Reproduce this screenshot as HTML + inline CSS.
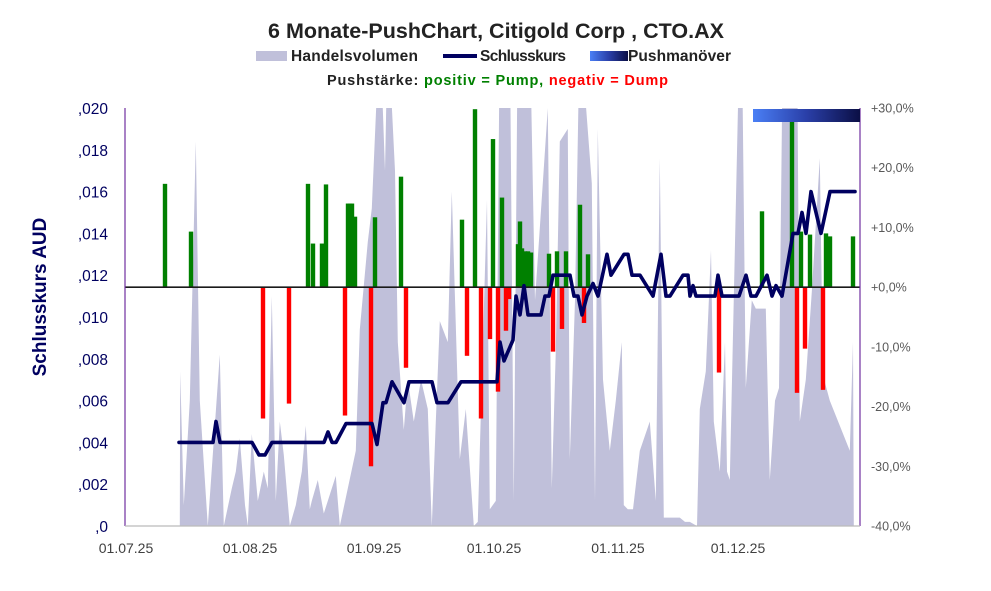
<!DOCTYPE html>
<html><head><meta charset="utf-8"><style>
body{margin:0;background:#fff;}
svg{display:block;font-family:"Liberation Sans",sans-serif;}
</style></head><body>
<svg id="chart" width="991" height="591" viewBox="0 0 991 591" xmlns="http://www.w3.org/2000/svg">
<defs>
<linearGradient id="pg" x1="0" x2="1" y1="0" y2="0"><stop offset="0" stop-color="#4a7ff5"/><stop offset="0.5" stop-color="#2a3fa8"/><stop offset="1" stop-color="#0b0f45"/></linearGradient>
<clipPath id="plotclip"><rect x="125" y="108" width="735" height="418"/></clipPath>
</defs>
<text x="496" y="38" text-anchor="middle" font-size="21.5" font-weight="bold" fill="#222">6 Monate-PushChart, Citigold Corp , CTO.AX</text>
<g>
<rect x="256" y="51" width="31" height="10" fill="#c0c0da"/>
<text x="291" y="61" font-size="15.5" font-weight="bold" fill="#222" textLength="127">Handelsvolumen</text>
<rect x="443" y="54" width="34" height="4" fill="#000060"/>
<text x="480" y="61" font-size="15.5" font-weight="bold" fill="#222" textLength="86">Schlusskurs</text>
<rect x="590" y="51" width="38" height="10" fill="url(#pg)"/>
<text x="628" y="61" font-size="15.5" font-weight="bold" fill="#222" textLength="103">Pushmanöver</text>
<text x="327" y="85" font-size="14.5" font-weight="bold" fill="#222" textLength="341">Pushstärke:  <tspan fill="#008000">positiv = Pump,</tspan>  <tspan fill="#ff0000">negativ = Dump</tspan></text>
</g>
<g id="vol" clip-path="url(#plotclip)"></g>
<g id="bars"></g>
<g id="axes"></g>
<g id="line"></g>
<rect x="753" y="109" width="107" height="13" fill="url(#pg)"/>
<text transform="translate(46,297) rotate(-90)" text-anchor="middle" font-size="19" font-weight="bold" fill="#000060">Schlusskurs AUD</text>
</svg>
<script>
const priceTicks=[",0",",002",",004",",006",",008",",010",",012",",014",",016",",018",",020"];
const pctTicks=["-40,0%","-30,0%","-20,0%","-10,0%","+0,0%","+10,0%","+20,0%","+30,0%"];
const dateLabels=["01.07.25","01.08.25","01.09.25","01.10.25","01.11.25","01.12.25"];
const dateDays=[0,31,62,92,123,153];
const priceDays=[13.5,22,22.75,23.75,31.75,33.5,35,36.75,49.75,50.75,51.75,52.75,55.25,60.75,61.75,63,64.5,65.25,66.75,69.75,71,76.75,78,80.75,84,93,93.75,94.75,97,97.75,98.75,99.75,100.75,104,105,106,107,111.25,112.25,113.25,114.25,115.5,117,118.25,120.5,121.5,124.75,125.75,126.75,128.75,132,134,135.25,136.25,139.5,140.75,141.25,142,142.75,147.5,148.25,149.25,153.5,155.25,156.5,157.75,160.5,161.75,162.75,164.25,167,168.25,169.25,170.25,171.5,174,176.25,182.5];
const prices=[.004,.004,.005,.004,.004,.0034,.0034,.004,.004,.0045,.004,.004,.0049,.0049,.0049,.0039,.0059,.0059,.0069,.0059,.0069,.0069,.0059,.0059,.0069,.0069,.0088,.0079,.0089,.011,.0101,.0115,.0101,.0101,.011,.011,.012,.012,.011,.011,.0101,.011,.0116,.011,.013,.012,.013,.013,.012,.012,.011,.013,.011,.011,.012,.012,.011,.0115,.011,.011,.012,.011,.011,.012,.011,.011,.012,.011,.0115,.011,.014,.014,.015,.014,.016,.014,.016,.016];
const volDays=[13.7,13.8,14.7,16.2,17.7,18.7,20.7,23.7,24.7,26.7,27.7,28.7,30,30.7,31.7,33.2,34.7,35.7,36.7,37.7,38.7,39.7,41.2,42.7,44.2,45.2,46.2,46.7,48.2,49.7,52.7,53.7,55.7,57.7,58.7,60.7,61.7,63.7,65,65.7,67.5,68.2,69.7,70.7,72.2,74,75.7,76.7,77.7,78.7,80.7,81.7,83.7,85.2,87.2,88.2,89.2,90.5,91.2,92.7,93.7,96.2,97.2,98.2,101.2,102.5,105.7,106.7,107.7,108.7,110.7,111.2,112.5,113.7,116.7,117.5,118.2,119.5,121.2,122.7,124.2,124.7,125.7,127,128.7,131.2,132.7,133.7,134.7,136.2,138.7,140,141.2,143,143.7,145.2,146.5,147.2,148.7,150,150.5,151.2,153.7,154.2,155.2,156.7,157.7,160.2,161.2,162.5,163.5,164.5,168,168.7,170.2,171.7,173.7,174.5,176.2,181.2,182,182.2];
const volumes=[0,37,5,30,92,30,0,41,0,9,13,21,5,0,22,6,13,9,55,6,25,17,0,5,13,24,4,6,11,3,12,0,9,18,47,68,76,120,85,120,85,44,23,35,25,35,28,0,25,49,44,80,16,28,0,1,35,78,4,6,120,120,6,120,120,54,100,9,42,92,95,16,54,120,82,6,95,35,18,30,44,5,4,4,18,25,6,88,2,2,2,1,1,0,28,37,66,25,13,44,13,11,120,120,33,54,52,52,11,30,33,120,120,25,35,56,88,36,30,18,44,0];
const pushDays=[10,16.5,34.5,41,45.75,47,49.25,50.25,55,55.75,56.25,56.75,57.5,61.5,62.5,69,70.25,84.25,85.5,87.5,89,91.25,92,93.25,94.25,95.25,96,98.25,98.75,99.25,100,100.75,101.5,106,107,108,109.25,110.25,113.75,114.75,115.75,148.5,159.25,166.75,168,169,170,171.25,174.5,175.25,176.25,182];
const pushPct=[17.3,9.3,-22,-19.5,17.3,7.3,7.3,17.2,-21.5,14,14,14,11.8,-30,11.7,18.5,-13.5,11.3,-11.5,29.8,-22,-8.7,24.8,-17.5,15,-7.3,-2,7.2,11,6.5,6,6,5.8,5.6,-10.8,6,-7,6,13.8,-6,5.5,-14.3,12.7,27.8,-17.7,9.3,-10.3,8.8,-17.2,9,8.5,8.5];

const NS="http://www.w3.org/2000/svg";
const X0=125,X1=860,YT=108,YB=526;
const xs=d=>X0+d*4.0;
const yP=p=>YB-(p/0.020)*(YB-YT);
const yPct=v=>YB-((v+40)/70)*(YB-YT);
const yV=v=>YB-(v/100)*(YB-YT);
function mk(tag,attrs,parent){const e=document.createElementNS(NS,tag);for(const k in attrs)e.setAttribute(k,attrs[k]);parent.appendChild(e);return e;}

const vg=document.getElementById('vol');
let d=`M${xs(volDays[0])},${YB}`;
for(let i=0;i<volDays.length;i++)d+=` L${xs(volDays[i])},${yV(volumes[i])}`;
d+=` L${xs(volDays[volDays.length-1])},${YB} Z`;
const va=mk('path',{d:d,fill:'#c0c0da'},vg);



const ag=document.getElementById('axes');
const la=mk('line',{x1:X0,y1:YT,x2:X0,y2:YB,stroke:'#7030a0','stroke-width':1.2},ag);


const ra=mk('line',{x1:X1,y1:YT,x2:X1,y2:YB,stroke:'#7030a0','stroke-width':1.2},ag);


const ba=mk('line',{x1:X0,y1:YB,x2:X1,y2:YB,stroke:'#bbb','stroke-width':1.2},ag);


priceTicks.forEach((t,i)=>{const e=mk('text',{x:108,y:yP(i*0.002)+6,'text-anchor':'end','font-size':15.5,fill:'#000060'},ag);e.textContent=t;

});
pctTicks.forEach((t,i)=>{const e=mk('text',{x:871,y:yPct(-40+i*10)+4.5,'font-size':12.5,fill:'#595959'},ag);e.textContent=t;

});
dateLabels.forEach((t,i)=>{const e=mk('text',{x:xs(dateDays[i])+1,y:553,'text-anchor':'middle','font-size':14,fill:'#404040'},ag);e.textContent=t;

});

const bg=document.getElementById('bars');
const y0=yPct(0);
pushDays.forEach((dd,i)=>{const v=pushPct[i];const y=yPct(v);
const r=mk('rect',{x:xs(dd)-2.2,y:Math.min(y,y0),width:4.4,height:Math.abs(y-y0),fill:v>=0?'#008000':'#ff0000'},bg);

});
const zl=mk('line',{x1:X0,y1:y0,x2:X1,y2:y0,stroke:'#1a1a1a','stroke-width':1.6},bg);



const lg=document.getElementById('line');
const pts=priceDays.map((dd,i)=>xs(dd)+','+yP(prices[i])).join(' ');
const pl=mk('polyline',{points:pts,fill:'none',stroke:'#000060','stroke-width':3.6,'stroke-linejoin':'round','stroke-linecap':'round'},lg);


</script>
</body></html>
